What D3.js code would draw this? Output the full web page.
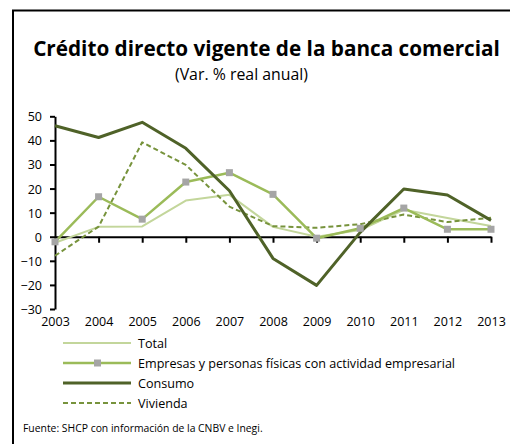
<!DOCTYPE html>
<html><head><meta charset="utf-8">
<script src="https://cdn.jsdelivr.net/npm/d3@7"></script>
<style>body{margin:0;background:#fff}svg{display:block}text{font-family:"Open Sans",sans-serif}</style>
</head><body><svg id="c" width="510" height="444"></svg>
<script>
const years = [2003,2004,2005,2006,2007,2008,2009,2010,2011,2012,2013];
const total =    [-2.5, 4.1, 4.3, 15.0, 17.4, 4.1, 0.0, 2.8, 11.2, 7.8, 4.5];
const empresas = [-2.1, 16.6, 7.3, 22.7, 26.6, 17.6, -0.6, 3.5, 11.9, 3.1, 3.1];
const consumo =  [46.1, 41.2, 47.5, 36.7, 19.1, -9.0, -20.2, 1.8, 19.8, 17.3, 6.8];
const vivienda = [-7.9, 4.2, 39.2, 29.8, 12.5, 4.4, 3.7, 5.2, 9.2, 6.1, 7.9];
const yTicks = [-30,-20,-10,0,10,20,30,40,50];
const seriesNames = ["Total","Empresas y personas físicas con actividad empresarial","Consumo","Vivienda"];

const svg = d3.select("#c");
svg.append("rect").attr("x",13).attr("y",10.5).attr("width",600).attr("height",600)
  .attr("fill","none").attr("stroke","#000").attr("stroke-width",2);

function fit(sel, w){
  const n = sel.node(); const fs = +sel.attr("font-size");
  const cw = n.getComputedTextLength();
  sel.attr("font-size", (fs*w/cw).toFixed(2));
}

fit(svg.append("text").attr("x",266.5).attr("y",56).attr("text-anchor","middle")
  .attr("font-weight","bold").attr("font-size",18).text("Crédito directo vigente de la banca comercial"), 467);
fit(svg.append("text").attr("x",241.5).attr("y",80).attr("text-anchor","middle")
  .attr("font-size",16).text("(Var. % real anual)"), 133);

const x = d3.scaleLinear().domain([2003,2013]).range([55,491]);
const y = d3.scaleLinear().domain([-30,50]).range([309,116.3]);

// y axis
const ya = svg.append("g").attr("transform","translate(55,0)")
  .call(d3.axisLeft(y).tickValues(yTicks).tickSize(5).tickSizeOuter(0).tickPadding(4));
ya.select(".domain").attr("stroke","#000").attr("stroke-width",2);
ya.selectAll(".tick line").attr("stroke","#000").attr("stroke-width",2);
ya.selectAll("text").attr("font-size",12.5).attr("fill","#000").style("font-family","Open Sans").attr("x",-13).attr("dy","0.36em");

// x axis at y=0
const xa = svg.append("g").attr("transform",`translate(0,${y(0)})`)
  .call(d3.axisBottom(x).tickValues(years).tickFormat(d3.format("d")).tickSize(6).tickSizeOuter(0));
xa.select(".domain").attr("stroke","#000").attr("stroke-width",2);
xa.selectAll(".tick line").attr("stroke","#000").attr("stroke-width",2);
xa.selectAll("text").attr("font-size",12.5).attr("fill","#000").style("font-family","Open Sans")
  .attr("y", 326.5 - y(0)).attr("dy",0);

const line = d3.line().x((d,i)=>x(years[i])).y(d=>y(d));
const styles = [
  {data: total, color:"#c3d69b", w:2, dash:null},
  {data: empresas, color:"#9bbb59", w:2.5, dash:null},
  {data: consumo, color:"#4f6228", w:3, dash:null},
  {data: vivienda, color:"#77933c", w:2, dash:"5,3"}
];
const order = [0,3,1,2];
order.forEach(k=>{
  const s = styles[k];
  svg.append("path").attr("d",line(s.data)).attr("fill","none").attr("stroke",s.color)
    .attr("stroke-width",s.w).attr("stroke-dasharray",s.dash).attr("stroke-linejoin","round");
});
svg.selectAll("rect.mk").data(empresas).enter().append("rect").attr("class","mk")
  .attr("x",(d,i)=>x(years[i])-3.5).attr("y",d=>y(d)-3.5).attr("width",7).attr("height",7).attr("fill","#a5a5a5");

// legend
const lg = svg.append("g");
const rowsY = [343,363,383,403];
let legFs = 12;
seriesNames.forEach((n,i)=>{
  const s = styles[i];
  lg.append("line").attr("x1",63).attr("x2",131).attr("y1",rowsY[i]).attr("y2",rowsY[i])
    .attr("stroke",s.color).attr("stroke-width",s.w).attr("stroke-dasharray",s.dash);
  if(i===1) lg.append("rect").attr("x",94).attr("y",rowsY[i]-3.5).attr("width",7).attr("height",7).attr("fill","#a5a5a5");
  const t = lg.append("text").attr("class","lt").attr("x",138).attr("y",rowsY[i]+4.5).attr("font-size",12).text(n);
  if(i===1){ fit(t,317); legFs = +t.attr("font-size"); }
});
lg.selectAll("text.lt").attr("font-size",legFs);
fit(svg.append("text").attr("x",23).attr("y",432).attr("font-size",9.5).text("Fuente: SHCP con información de la CNBV e Inegi."), 240);
</script></body></html>
